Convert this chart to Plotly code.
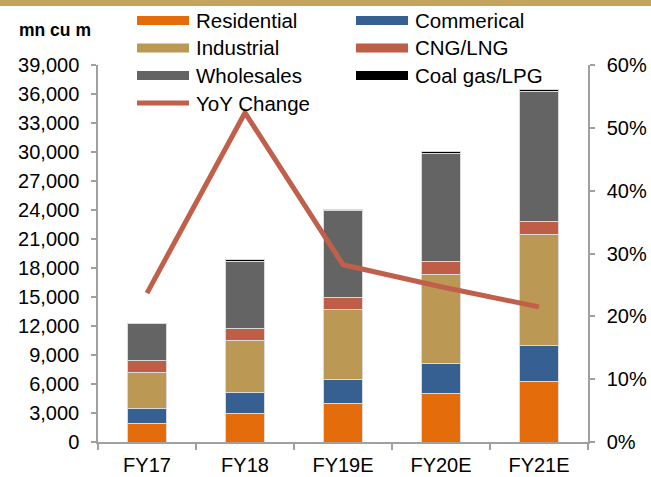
import plotly.graph_objects as go

categories = ["FY17", "FY18", "FY19E", "FY20E", "FY21E"]
residential = [1900, 3000, 3970, 5010, 6280]
commercial = [1610, 2070, 2540, 3100, 3720]
industrial = [3720, 5450, 7210, 9240, 11510]
cng_lng = [1180, 1270, 1240, 1310, 1310]
wholesales = [3800, 6930, 9000, 11170, 13450]
coal_lpg = [100, 150, 140, 240, 200]
yoy_change = [0.237, 0.524, 0.282, 0.247, 0.215]

series = [
    ("Residential", residential, "#E46C0A"),
    ("Commerical", commercial, "#376092"),
    ("Industrial", industrial, "#BC9855"),
    ("CNG/LNG", cng_lng, "#BE5E47"),
    ("Wholesales", wholesales, "#646464"),
    ("Coal gas/LPG", coal_lpg, "#000000"),
]
line_color = "#C0604A"

W, H = 651, 477
L, R, T, B = 98, 63, 65, 35
PW, PH = W - L - R, H - T - B


def px(x):
    return (x - L) / PW


def py(y):
    return (H - B - y) / PH


fig = go.Figure()
for name, vals, col in series:
    fig.add_trace(go.Bar(
        x=categories, y=vals, name=name, marker_color=col,
        marker_line=dict(color="#D9D9D9", width=1),
        width=0.4, showlegend=False,
    ))
fig.add_trace(go.Scatter(
    x=categories, y=yoy_change, name="YoY Change", yaxis="y2",
    mode="lines", line=dict(color=line_color, width=5),
    showlegend=False,
))

font = "Liberation Sans, Arial, sans-serif"
axis_col = "#A0A0A0"

shapes = [
    dict(type="rect", xref="paper", yref="paper", x0=px(0), x1=px(W),
         y0=py(6), y1=py(0), fillcolor="#C4A35D", line_width=0, layer="below"),
]
annotations = [
    dict(text="<b>mn cu m</b>", xref="paper", yref="paper", x=px(55), y=py(30),
         showarrow=False, font=dict(size=17.5, color="#000", family=font),
         xanchor="center", yanchor="middle"),
]

legend_items = [
    ("Residential", "#E46C0A", 137, 20.5, "bar"),
    ("Commerical", "#376092", 356, 20.5, "bar"),
    ("Industrial", "#BC9855", 137, 48, "bar"),
    ("CNG/LNG", "#BE5E47", 356, 48, "bar"),
    ("Wholesales", "#646464", 137, 75.5, "bar"),
    ("Coal gas/LPG", "#000000", 356, 75.5, "bar"),
    ("YoY Change", line_color, 137, 103, "line"),
]
for name, col, x0, yc, kind in legend_items:
    if kind == "bar":
        shapes.append(dict(type="rect", xref="paper", yref="paper",
                           x0=px(x0), x1=px(x0 + 52), y0=py(yc + 4.5), y1=py(yc - 4.5),
                           fillcolor=col, line_width=0))
    else:
        shapes.append(dict(type="line", xref="paper", yref="paper",
                           x0=px(x0), x1=px(x0 + 52), y0=py(yc), y1=py(yc),
                           line=dict(color=col, width=5)))
    annotations.append(dict(text=name, xref="paper", yref="paper",
                            x=px(x0 + 57), y=py(yc), showarrow=False,
                            xanchor="left", yanchor="middle",
                            font=dict(size=20.5, color="#000", family=font)))

fig.update_layout(
    width=W, height=H,
    margin=dict(l=L, r=R, t=T, b=B),
    barmode="stack", bargap=0.6,
    plot_bgcolor="white", paper_bgcolor="white",
    font=dict(family=font, size=20, color="#000"),
    xaxis=dict(showline=True, linecolor=axis_col, linewidth=1.5,
               ticks="outside", tickson="boundaries", ticklen=6, tickcolor=axis_col,
               tickwidth=1.5, showgrid=False, tickfont=dict(size=20),
               ticklabelstandoff=4, automargin=False),
    yaxis=dict(range=[0, 39000], dtick=3000, tickformat=",", showline=True,
               linecolor=axis_col, linewidth=1.5, ticks="outside", ticklen=5,
               tickcolor=axis_col, tickwidth=1.5, showgrid=False, zeroline=False,
               ticklabelstandoff=8, tickfont=dict(size=20), automargin=False),
    yaxis2=dict(range=[0, 0.6], dtick=0.1, tickformat=".0%", overlaying="y",
                side="right", showline=True, linecolor=axis_col, linewidth=1.5,
                ticks="outside", ticklen=5, tickcolor=axis_col, tickwidth=1.5,
                showgrid=False, zeroline=False, ticklabelstandoff=8,
                tickfont=dict(size=20), automargin=False),
    shapes=shapes, annotations=annotations, showlegend=False,
)

fig.write_html("out.html")
